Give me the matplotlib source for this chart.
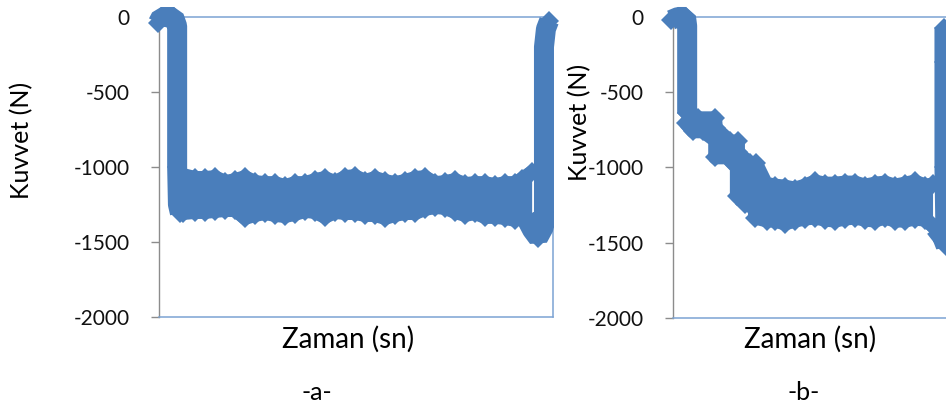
import matplotlib
matplotlib.use("Agg")
import matplotlib.pyplot as plt

plt.rcParams['font.family'] = ['Lato', 'DejaVu Sans']

# --- values: time (s), force (N) ---
y_ticks = [0, -500, -1000, -1500, -2000]
y_tick_labels = ['0', '-500', '-1000', '-1500', '-2000']

# panel -a-
a_start_t = [-0.3, 0.5, 3.8, 4.6, 4.6, 4.8, 5.3]
a_start_f = [-40, 0, 0, -60, -1000, -1250, -1307]
a_band_t = [6.1, 9.1, 11.7, 14.2, 16.8, 19.3, 21.8, 24.4, 26.9, 29.4, 32.0, 34.5,
            37.1, 39.6, 42.1, 44.7, 47.2, 49.7, 52.3, 54.8, 57.4, 59.9, 62.4, 65.0,
            67.5, 70.1, 72.6, 75.1, 77.7, 80.2, 82.7, 85.3, 87.8, 90.4, 92.1, 94.7]
a_band_hi = [-1053, -1073, -1073, -1067, -1100, -1087, -1067, -1100, -1107, -1107, -1127, -1107,
             -1107, -1087, -1073, -1100, -1067, -1060, -1093, -1073, -1093, -1107, -1093, -1073,
             -1067, -1107, -1100, -1087, -1113, -1107, -1107, -1120, -1107, -1107, -1080, -1033]
a_band_lo = [-1307, -1300, -1300, -1293, -1287, -1287, -1340, -1320, -1307, -1320, -1327, -1313,
             -1293, -1300, -1333, -1300, -1307, -1307, -1320, -1320, -1340, -1320, -1307, -1307,
             -1280, -1267, -1273, -1300, -1320, -1307, -1333, -1333, -1340, -1353, -1327, -1420]
a_end_t = [92.9, 94.7, 96.2, 97.7, 97.7, 97.7, 98.2, 99.0]
a_end_f = [-1330, -1420, -1473, -1400, -1300, -200, -80, -25]

# panel -b-
b_start_t = [-0.5, 1.3, 3.3, 3.6, 3.6]
b_start_f = [-20, 0, 0, -60, -640]
b_top_t = [3.6, 6.3, 10.7, 10.9, 14.5, 16.5, 16.5, 19.5, 21.1, 23.6,
           25.9, 28.4, 31.0, 33.5, 36.0, 38.6, 41.1, 43.7, 46.2, 48.7, 51.3, 53.8,
           56.3, 58.9, 61.4, 64.0, 66.0]
b_top_f = [-640, -673, -673, -740, -827, -827, -900, -973, -973, -1107,
           -1120, -1127, -1140, -1120, -1093, -1107, -1107, -1100, -1100, -1120, -1107, -1100,
           -1120, -1107, -1093, -1120, -1113]
b_bot_t = [3.3, 5.1, 7.6, 10.7, 10.7, 13.7, 16.2, 16.2, 18.3, 20.8, 20.8, 23.9,
           25.9, 28.4, 31.0, 33.5, 36.0, 38.6, 41.1, 43.7, 46.2, 48.7, 51.3, 53.8,
           56.3, 58.9, 61.4, 64.0, 66.0]
b_bot_f = [-707, -760, -760, -820, -933, -933, -1000, -1187, -1240, -1273, -1333, -1353,
           -1353, -1373, -1353, -1340, -1333, -1347, -1353, -1340, -1333, -1347, -1353, -1333,
           -1353, -1353, -1340, -1347, -1387]
b_end_t = [66.5, 68.3, 69.2, 68.9, 68.9, 68.9]
b_end_f = [-1400, -1460, -1520, -1000, -300, -70]

a_xticks = [21.1, 74.9]
b_xticks = [7.6, 61.9]

BLUE = '#4a7ebb'
BORDER = '#7ca3d3'
GREY = '#8c8c8c'
MS = 10.2      # diamond marker (pt)
LW = 14.4      # thick line through dense points (pt)
EDGE_LW = 10.0  # envelope stroke, keeps the teeth shallow


def draw_panel(ax, st, sf, tt, tf, bt, bf, et, ef, xticks):
    # band of dense oscillating samples
    ax.fill(list(tt) + list(bt)[::-1], list(tf) + list(bf)[::-1],
            color=BLUE, lw=0, zorder=4, clip_on=False)
    for t, f in ((tt, tf), (bt, bf)):
        ax.plot(t, f, color=BLUE, lw=EDGE_LW, solid_capstyle='round',
                solid_joinstyle='round', marker='D', ms=MS, mew=0,
                zorder=4, clip_on=False)
    for t, f in ((st, sf), (et, ef)):
        ax.plot(t, f, color=BLUE, lw=LW, solid_capstyle='butt',
                solid_joinstyle='bevel', marker='D', ms=MS, mew=0,
                zorder=4, clip_on=False)

    ax.set_xlim(0, 100)
    ax.set_ylim(-2000, 0)
    ax.set_yticks(y_ticks)
    ax.set_yticklabels(y_tick_labels)
    ax.set_xticks(xticks)
    ax.set_xticklabels([])
    for s in ('top', 'right', 'bottom'):
        ax.spines[s].set_color(BORDER)
        ax.spines[s].set_linewidth(1.1)
    ax.spines['left'].set_color(GREY)
    ax.spines['left'].set_linewidth(1.0)
    ax.tick_params(axis='y', direction='out', length=6, width=1.0,
                   color=GREY, pad=15, labelsize=15, labelcolor='#111111')
    ax.tick_params(axis='x', direction='inout', length=4, width=1.5,
                   color='white')


fig = plt.figure(figsize=(9.46, 4.07), dpi=100)
ax_a = fig.add_axes([0.1681, 0.2211, 0.4165, 0.7371])
ax_b = fig.add_axes([0.7114, 0.2187, 0.4165, 0.7396])

draw_panel(ax_a, a_start_t, a_start_f, a_band_t, a_band_hi, a_band_t, a_band_lo,
           a_end_t, a_end_f, a_xticks)
draw_panel(ax_b, b_start_t, b_start_f, b_top_t, b_top_f, b_bot_t, b_bot_f,
           b_end_t, b_end_f, b_xticks)

fig.text(0.3684, 0.145, 'Zaman (sn)', ha='center', va='baseline', fontsize=20)
fig.text(0.856, 0.145, 'Zaman (sn)', ha='center', va='baseline', fontsize=20)
fig.text(0.0233, 0.656, 'Kuvvet (N)', rotation=90, ha='center', va='center', fontsize=18)
fig.text(0.613, 0.70, 'Kuvvet (N)', rotation=90, ha='center', va='center', fontsize=18)
fig.text(0.335, 0.0172, '-a-', ha='center', va='baseline', fontsize=18)
fig.text(0.849, 0.0172, '-b-', ha='center', va='baseline', fontsize=18)

fig.savefig('out.png', dpi=100)
